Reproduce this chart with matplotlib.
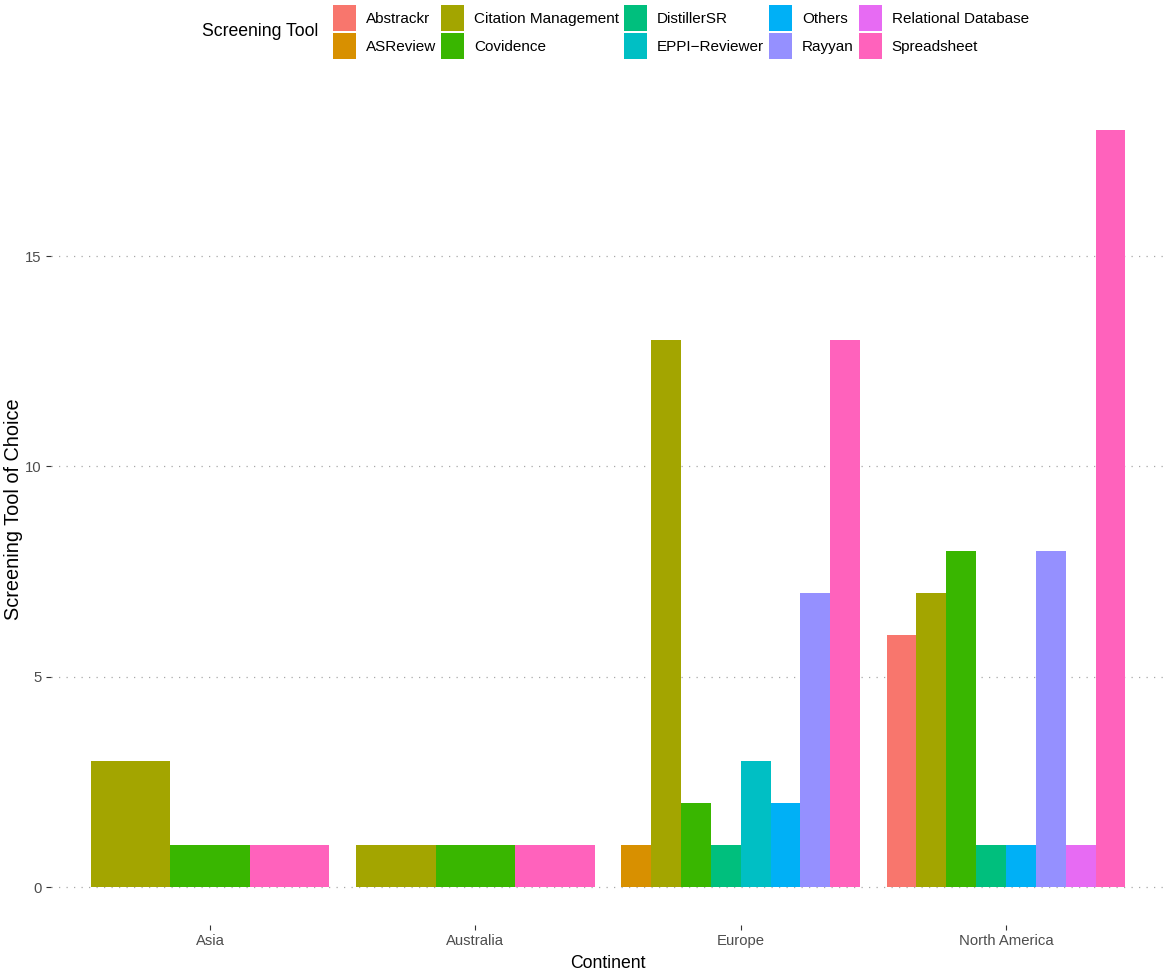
import matplotlib
matplotlib.use("Agg")
import matplotlib.pyplot as plt
from matplotlib.patches import Patch

plt.rcParams['font.family'] = ['Liberation Sans', 'DejaVu Sans']

continents = ["Asia", "Australia", "Europe", "North America"]
tools = ["Abstrackr", "ASReview", "Citation Management", "Covidence", "DistillerSR",
         "EPPI\u2212Reviewer", "Others", "Rayyan", "Relational Database", "Spreadsheet"]
colors = ["#F8766D", "#D89000", "#A3A500", "#39B600", "#00BF7D",
          "#00BFC4", "#00B0F6", "#9590FF", "#E76BF3", "#FF62BC"]

# counts per continent, aligned with `tools` (0 = tool not reported)
asia          = [0, 0, 3, 1, 0, 0, 0, 0, 0, 1]
australia     = [0, 0, 1, 1, 0, 0, 0, 0, 0, 1]
europe        = [0, 1, 13, 2, 1, 3, 2, 7, 0, 13]
north_america = [6, 0, 7, 8, 1, 0, 1, 8, 1, 18]
counts = [asia, australia, europe, north_america]

W, H = 1170, 973
fig = plt.figure(figsize=(W / 100, H / 100), dpi=100)
ax = fig.add_axes([50.8 / W, (H - 924.9) / H, 1114.4 / W, 832.9 / H])

dodge = 0.9
for gi, vals in enumerate(counts):
    present = [(ti, v) for ti, v in enumerate(vals) if v > 0]
    n = len(present)
    bw = dodge / n
    left = gi + 1 - dodge / 2
    for k, (ti, v) in enumerate(present):
        ax.bar(left + bw * (k + 0.5), v, width=bw, color=colors[ti],
               edgecolor='none', linewidth=0, zorder=2)

ax.set_xlim(0.4, 4.6)
ax.set_ylim(-0.9, 18.9)
ax.set_xticks(range(1, 5))
ax.set_xticklabels(continents)
ax.set_yticks([0, 5, 10, 15])
ax.yaxis.grid(True, linestyle=(0, (1, 5)), linewidth=0.9, color='#A8A8A8', zorder=0)
ax.xaxis.grid(False)
ax.set_axisbelow(True)
for s in ax.spines.values():
    s.set_visible(False)
ax.tick_params(axis='both', length=3.6, width=0.8, color='#333333',
               labelcolor='#4D4D4D', labelsize=10.7, pad=2.9)

fig.text(608 / W, 1 - 968 / H, "Continent", fontsize=12.7, ha='center', va='baseline')
fig.text(19 / W, 1 - 509.5 / H, "Screening Tool of Choice", fontsize=14.3,
         rotation=90, rotation_mode='anchor', ha='center', va='baseline')

handles = [Patch(facecolor=c, edgecolor='none') for c in colors]
fig.legend(handles, tools, loc='upper left', bbox_to_anchor=(333 / W, 1 - 5 / H),
           ncol=5, frameon=False, fontsize=11, handlelength=1.5, handleheight=2.24,
           handletextpad=0.65, labelspacing=0.13, columnspacing=0.33,
           borderpad=0, borderaxespad=0)
fig.text(202 / W, 1 - 32 / H, "Screening Tool", fontsize=12.7, ha='left', va='center')

fig.savefig("out.png", dpi=100)
